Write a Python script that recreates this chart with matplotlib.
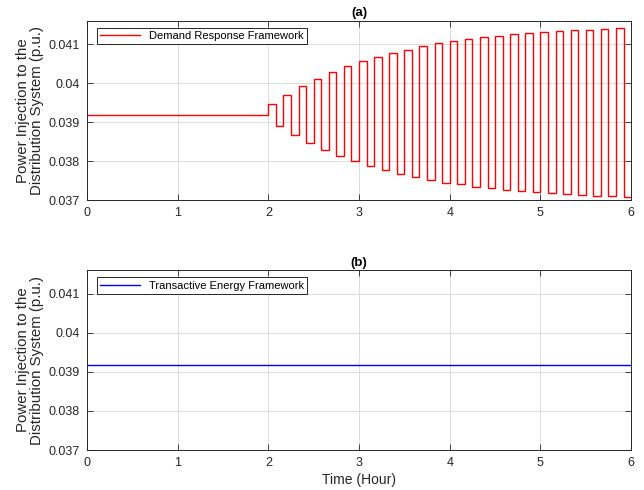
import numpy as np
import matplotlib.pyplot as plt

plt.rcParams['font.family'] = ['Liberation Sans', 'DejaVu Sans']
plt.rcParams['font.size'] = 8.5

# baseline injection (p.u.) and pulse levels
baseline = 0.03918
dr_high = [0.03946, 0.0397, 0.03992, 0.04011, 0.04028, 0.04043, 0.04056, 0.04067,
           0.04077, 0.04086, 0.04094, 0.04102, 0.04107, 0.04113, 0.04117, 0.04121,
           0.04125, 0.04128, 0.04131, 0.04133, 0.04136, 0.04137, 0.04139, 0.04141]
dr_low = [0.03891, 0.03867, 0.03848, 0.0383, 0.03814, 0.0380, 0.03789, 0.03777,
          0.03768, 0.0376, 0.03752, 0.03745, 0.03741, 0.03735, 0.03731, 0.03727,
          0.03724, 0.03721, 0.03718, 0.03716, 0.03714, 0.03712, 0.03711, 0.03709]
te_value = 0.03918

t_start, t_end = 2, 6   # hours, pulses every 5 minutes
pulse_edges = np.linspace(t_start, t_end, 2 * len(dr_high) + 1)
edges = np.concatenate([[0], pulse_edges])
values = [baseline]
for h, l in zip(dr_high, dr_low):
    values += [h, l]

yticks = [0.037, 0.038, 0.039, 0.04, 0.041]
ytick_labels = ['0.037', '0.038', '0.039', '0.04', '0.041']

fig = plt.figure(figsize=(6.44, 4.9), dpi=100)
ax1 = fig.add_axes([0.135, 0.591, 0.845, 0.367])
ax2 = fig.add_axes([0.135, 0.0816, 0.845, 0.367])

ax1.stairs(values, edges, baseline=None, color='r', linewidth=1.0,
           label='Demand Response Framework')
ax2.plot([0, 6], [te_value, te_value], color='b', linewidth=1.0,
         label='Transactive Energy Framework')

for ax, title in [(ax1, '(a)'), (ax2, '(b)')]:
    ax.set_xlim(0, 6)
    ax.set_ylim(0.037, 0.0416)
    ax.set_yticks(yticks)
    ax.set_yticklabels(ytick_labels)
    ax.set_xticks(range(7))
    ax.grid(True, color='#dcdcdc', linewidth=0.7)
    ax.set_axisbelow(True)
    ax.tick_params(direction='in', top=True, right=True, length=4,
                   width=0.6, colors='#262626', labelsize=9, pad=5)
    for s in ax.spines.values():
        s.set_color('#262626')
        s.set_linewidth(0.7)
    ax.set_title(title, fontsize=9.5, fontweight='bold', pad=3)
    ax.set_ylabel('Power Injection to the\nDistribution System (p.u.)',
                  fontsize=10.8, color='#262626', linespacing=1.05, labelpad=3)
    leg = ax.legend(loc='upper left', bbox_to_anchor=(0.018, 0.96),
                    fancybox=False, framealpha=1, edgecolor='#262626',
                    fontsize=8, handlelength=3.6, borderpad=0.3,
                    borderaxespad=0)
    leg.get_frame().set_linewidth(0.7)

ax2.set_xlabel('Time (Hour)', fontsize=10, color='#262626', labelpad=3)

fig.savefig('out.png', dpi=100)
